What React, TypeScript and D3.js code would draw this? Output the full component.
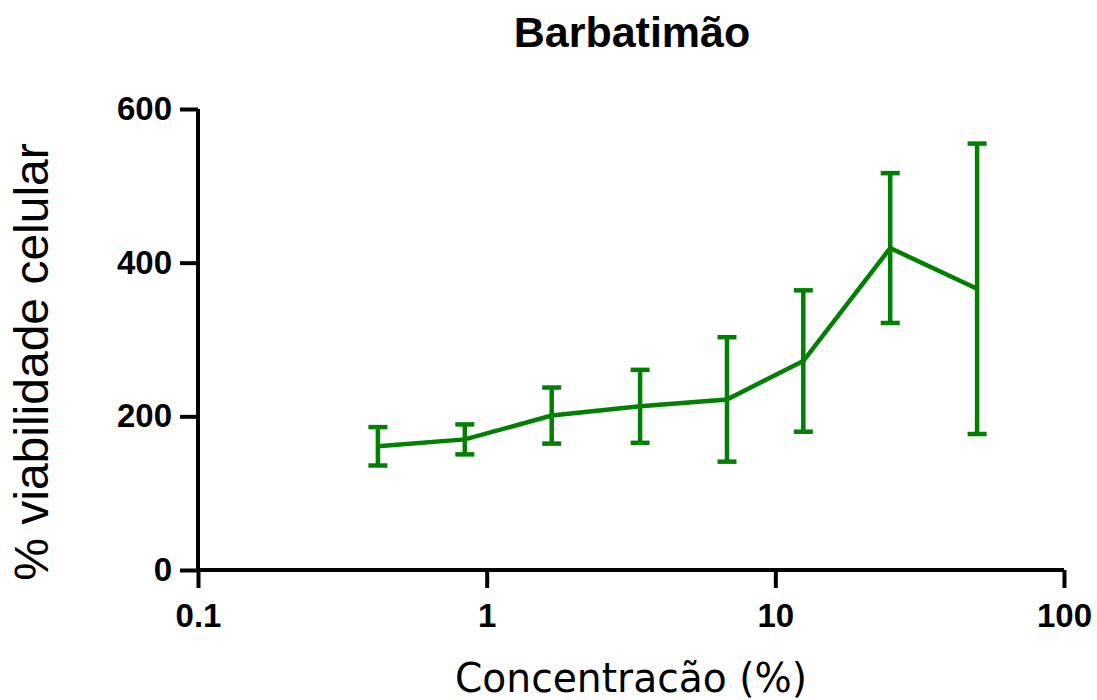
import { useEffect, useRef } from 'react';
import * as d3 from 'd3';

const concentrations = [0.42, 0.84, 1.68, 3.4, 6.8, 12.5, 25, 50];
const viability = [161, 170, 201, 213, 222, 272, 419, 366];
const errors = [25, 19.5, 36.5, 47.5, 81, 92, 97.5, 189];
const xTicks = [0.1, 1, 10, 100];
const yTicks = [0, 200, 400, 600];

const GREEN = '#008000';

export default function App() {
  const svgRef = useRef<SVGSVGElement>(null);

  useEffect(() => {
    document.body.style.margin = '0';
    if (!svgRef.current) return;
    const width = 1097;
    const height = 700;
    const svg = d3.select(svgRef.current);
    svg.selectAll('*').remove();
    svg.attr('width', width).attr('height', height);

    const x = d3.scaleLog().domain([0.1, 100]).range([198, 1064]);
    const y = d3.scaleLinear().domain([0, 600]).range([570, 109]);

    const data = concentrations.map((c, i) => ({ c, v: viability[i], e: errors[i] }));

    // error bars
    const bars = svg.append('g');
    data.forEach(d => {
      bars.append('line')
        .attr('x1', x(d.c)).attr('x2', x(d.c))
        .attr('y1', y(d.v + d.e)).attr('y2', y(d.v - d.e))
        .attr('stroke', GREEN).attr('stroke-width', 4.5);
      [d.v + d.e, d.v - d.e].forEach(val => {
        bars.append('line')
          .attr('x1', x(d.c) - 9.5).attr('x2', x(d.c) + 9.5)
          .attr('y1', y(val)).attr('y2', y(val))
          .attr('stroke', GREEN).attr('stroke-width', 4.5);
      });
    });

    // mean line
    const line = d3.line<typeof data[0]>()
      .x(d => x(d.c))
      .y(d => y(d.v));
    svg.append('path')
      .datum(data)
      .attr('d', line)
      .attr('fill', 'none')
      .attr('stroke', GREEN)
      .attr('stroke-width', 4.5)
      .attr('stroke-linejoin', 'miter');

    const tickFont = '"Liberation Sans", Arial, sans-serif';

    // X axis
    svg.append('g')
      .attr('transform', `translate(0,${y(0)})`)
      .call(d3.axisBottom(x).tickValues(xTicks).tickSize(18).tickPadding(16)
        .tickFormat(d => String(d)))
      .call(g => g.select('.domain').attr('stroke', '#000').attr('stroke-width', 4)
        .attr('d', `M${x(0.1)},0H${x(100)}`))
      .call(g => g.selectAll('.tick line').attr('stroke', '#000').attr('stroke-width', 4))
      .call(g => g.selectAll('.tick text').attr('fill', '#000')
        .attr('font-family', tickFont).attr('font-weight', 'bold').attr('font-size', '33px'));

    // Y axis
    svg.append('g')
      .attr('transform', `translate(${x(0.1)},0)`)
      .call(d3.axisLeft(y).tickValues(yTicks).tickSize(18).tickPadding(8))
      .call(g => g.select('.domain').attr('stroke', '#000').attr('stroke-width', 4)
        .attr('d', `M0,${y(600)}V${y(0)}`))
      .call(g => g.selectAll('.tick line').attr('stroke', '#000').attr('stroke-width', 4))
      .call(g => g.selectAll('.tick text').attr('fill', '#000')
        .attr('font-family', tickFont).attr('font-weight', 'bold').attr('font-size', '33px'));

    // Title
    svg.append('text')
      .attr('x', 632).attr('y', 47)
      .attr('text-anchor', 'middle')
      .attr('font-family', tickFont)
      .attr('font-weight', 'bold')
      .attr('font-size', '43px')
      .text('Barbatimão');

    // X label
    svg.append('text')
      .attr('x', 631).attr('y', 692)
      .attr('text-anchor', 'middle')
      .attr('font-family', '"DejaVu Sans", sans-serif')
      .attr('font-size', '40px')
      .attr('textLength', 352)
      .attr('lengthAdjust', 'spacingAndGlyphs')
      .text('Concentracão (%)');

    // Y label
    svg.append('text')
      .attr('transform', 'translate(48,362) rotate(-90)')
      .attr('text-anchor', 'middle')
      .attr('font-family', tickFont)
      .attr('font-size', '48px')
      .text('% viabilidade celular');
  }, []);

  return <svg ref={svgRef} style={{ display: 'block' }} />;
}
